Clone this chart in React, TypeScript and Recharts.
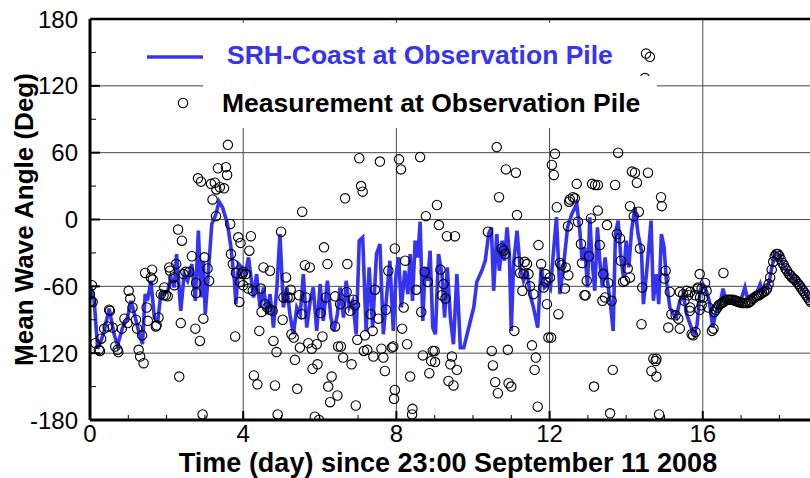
import React from 'react';
import { ComposedChart, Line, Scatter, XAxis, YAxis, CartesianGrid, ReferenceLine } from 'recharts';

const W = 810;
const H = 478;
const TOP = 19;
const YAXIS_W = 90;
const XAXIS_H = 58;
const PLOT_LEFT = YAXIS_W;
const PLOT_BOTTOM = H - XAXIS_H;
const FONT = "'Liberation Sans', Arial, Helvetica, sans-serif";
const BLUE = '#3434f2';

// axis ticks: labels on every 4 days / 60 deg, minor marks in between
const xTicks = [0, 1, 2, 3, 4, 5, 6, 7, 8, 9, 10, 11, 12, 13, 14, 15, 16, 17, 18];
const yTicks = [-180, -150, -120, -90, -60, -30, 0, 30, 60, 90, 120, 150, 180];
const xGrid = [4, 8, 12, 16];
const yGrid = [-120, -60, 0, 60, 120];

// SRH-Coast model result [day, deg]
const modelSeries: [number, number][] = [
  [0.0, -60], [0.05, -64], [0.11, -73], [0.2, -116], [0.29, -109], [0.37, -100], [0.5, -80],
  [0.63, -103], [0.72, -113], [0.85, -97], [0.98, -88], [1.07, -73], [1.16, -85], [1.29, -103],
  [1.37, -112], [1.44, -67], [1.5, -73], [1.59, -55], [1.68, -88], [1.77, -91], [1.85, -67],
  [1.94, -67], [2.03, -64], [2.11, -52], [2.2, -61], [2.26, -31], [2.37, -82], [2.46, -49],
  [2.55, -55], [2.66, -40], [2.75, -73], [2.83, -10], [2.9, -70], [2.96, -37], [3.01, -85],
  [3.1, -43], [3.18, -4], [3.29, 5], [3.37, 16], [3.46, 11], [3.59, -4], [3.68, -25],
  [3.77, -55], [3.81, -76], [3.88, -40], [3.97, -43], [4.03, -49], [4.09, -43], [4.14, -34],
  [4.27, -70], [4.35, -49], [4.44, -79], [4.53, -61], [4.62, -85], [4.7, -67], [4.79, -97],
  [4.88, -61], [4.96, -13], [5.05, -79], [5.14, -61], [5.22, -85], [5.31, -103], [5.4, -79],
  [5.49, -85], [5.57, -49], [5.66, -97], [5.75, -73], [5.83, -61], [5.92, -100], [6.01, -58],
  [6.09, -91], [6.2, -55], [6.29, -88], [6.37, -100], [6.46, -85], [6.53, -61], [6.62, -88],
  [6.69, -55], [6.77, -79], [6.86, -73], [6.95, -103], [7.03, -19], [7.12, -16], [7.21, -100],
  [7.29, -43], [7.38, -97], [7.48, -31], [7.57, -22], [7.66, -103], [7.75, -67], [7.83, -37],
  [7.92, -100], [7.99, -50], [8.06, -34], [8.13, -79], [8.22, -46], [8.3, -67], [8.36, -31],
  [8.42, -73], [8.49, -19], [8.56, -34], [8.62, -2], [8.69, -91], [8.75, -43], [8.82, -55],
  [8.88, -28], [8.95, -97], [9.02, -103], [9.1, -31], [9.19, -49], [9.26, -88], [9.33, -43],
  [9.41, -88], [9.49, -112], [9.58, -49], [9.67, -115], [9.76, -115], [9.89, -97], [10.02, -79],
  [10.1, -56], [10.23, -46], [10.32, -37], [10.41, -13], [10.48, -7], [10.54, -64], [10.62, -13],
  [10.69, -46], [10.76, -19], [10.82, -37], [10.89, -7], [10.95, -31], [11.0, -100], [11.06, -40],
  [11.15, -10], [11.23, -43], [11.32, -55], [11.41, -46], [11.49, -67], [11.58, -79], [11.69, -97],
  [11.78, -43], [11.87, -61], [11.95, -58], [12.02, -62], [12.18, 2], [12.27, -67], [12.36, -43],
  [12.47, -7], [12.58, 5], [12.71, 14], [12.79, -10], [12.85, -37], [12.92, -25], [12.99, -61],
  [13.05, 2], [13.11, -37], [13.18, -64], [13.25, -7], [13.31, -37], [13.38, -61], [13.45, -34],
  [13.51, -55], [13.58, -73], [13.66, -100], [13.72, -13], [13.79, -1], [13.86, -34], [13.93, -52],
  [14.0, -19], [14.07, -43], [14.14, -10], [14.23, 11], [14.31, -13], [14.4, -28], [14.45, -76],
  [14.53, -49], [14.65, -1], [14.71, -73], [14.79, -49], [14.85, -76], [14.92, -13], [14.99, -25],
  [15.05, -55], [15.14, -79], [15.23, -85], [15.31, -88], [15.4, -73], [15.49, -67], [15.58, -85],
  [15.68, -95], [15.77, -103], [15.85, -95], [15.93, -64], [16.0, -58], [16.09, -64], [16.17, -73],
  [16.26, -97], [16.35, -82], [16.45, -76], [16.53, -62], [16.6, -73], [16.76, -72], [16.89, -74],
  [16.99, -73], [17.1, -61], [17.16, -70], [17.28, -69], [17.41, -66], [17.5, -58], [17.56, -65],
  [17.67, -62], [17.74, -55], [17.82, -40], [17.9, -30], [17.97, -31], [18.05, -37], [18.15, -44],
  [18.25, -49], [18.37, -53], [18.5, -58], [18.63, -64], [18.8, -73],
];

// measurement at the observation pile [day, deg]
const measuredSeries: [number, number][] = [
  // day 0 - 4
  [0.05, -59], [0.0, -67], [0.03, -73], [0.07, -74], [0.14, -111], [0.23, -117], [0.26, -118],
  [0.29, -107], [0.37, -98], [0.46, -96], [0.5, -81], [0.52, -82], [0.59, -97], [0.66, -114],
  [0.72, -117], [0.74, -119], [0.83, -98], [0.9, -89], [1.01, -64], [1.05, -71], [1.11, -79],
  [0.98, -93], [1.2, -90], [1.23, -98], [1.27, -117], [1.31, -123], [1.4, -129], [1.36, -104],
  [1.44, -48], [1.62, -45], [1.59, -52], [1.64, -54], [1.48, -79], [1.51, -91], [1.72, -96],
  [1.74, -95], [1.79, -88], [1.85, -67], [1.92, -68], [1.94, -61], [1.98, -68], [2.03, -69],
  [2.07, -43], [2.09, -46], [2.18, -52], [2.2, -59], [2.25, -40], [2.3, -9], [2.4, -19],
  [2.44, -49], [2.49, -47], [2.59, -47], [2.66, -33], [2.77, -57], [2.77, -66], [2.37, -93],
  [2.33, -141], [2.75, -98], [2.87, -109], [2.96, -89], [2.94, -175], [2.99, -34], [3.07, -44],
  [3.11, -55], [2.82, 37], [2.9, 34], [3.16, 32], [3.26, 33], [3.3, 27], [3.39, 29], [3.5, 28],
  [3.34, 46], [3.55, 47], [3.58, 40], [3.6, 67], [3.2, 18], [3.29, 3], [3.66, -4], [3.68, -31],
  [3.73, -40], [3.81, -48], [3.79, -105], [3.87, -16], [3.9, -74], [3.93, -21], [3.98, -49],
  [3.92, -56],
  // day 4 - 8
  [4.0, -47], [4.0, -59], [4.07, -49], [4.13, -62], [4.16, -28], [4.2, -15], [4.25, -64],
  [4.28, -140], [4.37, -148], [4.42, -100], [4.46, -62], [4.48, -83], [4.53, -43], [4.57, -76],
  [4.63, -79], [4.7, -46], [4.7, -81], [4.77, -82], [4.79, -109], [4.83, -149], [4.87, -119],
  [4.9, -175], [4.99, -11], [5.03, -90], [5.05, -70], [5.12, -52], [5.16, -70], [5.22, -70],
  [5.24, -63], [5.26, -103], [5.32, -106], [5.35, -126], [5.41, -152], [5.46, -68], [5.48, -115],
  [5.53, -85], [5.54, 7], [5.61, -41], [5.64, -70], [5.7, -111], [5.74, -43], [5.79, -116],
  [5.81, -134], [5.87, -177], [5.92, -112], [5.94, -130], [5.98, -180], [6.02, -84], [6.07, -105],
  [6.11, -25], [6.16, -70], [6.2, -40], [6.22, -150], [6.27, -164], [6.31, -141], [6.4, -69],
  [6.4, -96], [6.46, -158], [6.48, -114], [6.53, -76], [6.55, -114], [6.61, -124], [6.66, 19],
  [6.7, -65], [6.72, -40], [6.79, -82], [6.83, -130], [6.87, -72], [6.92, -77], [6.94, -167],
  [6.98, -108], [7.03, 55], [7.08, 30], [7.12, 25], [7.15, -118], [7.18, -104], [7.24, -117],
  [7.33, -85], [7.38, -100], [7.4, -123], [7.44, -63], [7.53, -89], [7.57, 52], [7.61, -116],
  [7.66, -124], [7.7, -136], [7.73, -81], [7.79, -46], [7.83, 172], [7.88, -115], [7.92, -114],
  [7.94, -161], [7.96, -153], [7.96, -26],
  // day 8 - 12
  [8.07, 54], [8.12, 45], [8.15, -98], [8.19, -79], [8.23, -37], [8.28, -112], [8.36, -141],
  [8.41, -175], [8.42, -170], [8.52, -63], [8.62, 56], [8.65, -83], [8.69, -122], [8.74, -47],
  [8.77, 3], [8.82, -56], [8.86, -138], [8.91, -127], [8.95, -118], [9.0, -118], [9.01, -128],
  [9.06, 13], [9.11, -5], [9.15, -45], [9.19, -68], [9.23, -58], [9.28, -71], [9.32, -15],
  [9.36, -145], [9.41, -130], [9.45, -123], [9.49, -149], [9.53, -15], [9.58, -135], [10.39, -11],
  [10.49, -118], [10.52, -131], [10.58, -146], [10.62, 65], [10.65, -156], [10.68, 20], [10.75, -26],
  [10.8, -28], [10.84, -31], [10.86, 45], [10.91, -117], [10.93, -147], [11.0, -150], [11.08, -100],
  [11.12, 42], [11.15, 4], [11.19, -38], [11.23, -48], [11.29, -64], [11.32, -49], [11.35, -38],
  [11.41, -40], [11.45, -49], [11.49, -60], [11.54, -113], [11.58, -67], [11.61, -135],
  [11.64, -124], [11.69, -168], [11.71, -23], [11.78, -40], [11.84, -61], [11.89, -49], [11.9, -56],
  [11.93, -76], [11.97, -106],
  // day 12 - 16
  [12.01, -52], [12.04, -106], [12.06, 49], [12.11, 40], [12.14, 59], [12.19, 11], [12.23, -85],
  [12.27, -39], [12.31, -41], [12.4, -62], [12.42, -43], [12.48, -6], [12.49, -50], [12.51, 16],
  [12.53, 18], [12.61, 20], [12.66, 19], [12.71, 32], [12.74, -2], [12.82, -22], [12.85, -39],
  [12.91, -68], [12.94, -68], [12.97, -55], [13.03, -33], [13.08, 1], [13.11, 32], [13.16, -150],
  [13.19, 31], [13.26, 31], [13.26, 8], [13.31, -23], [13.38, -73], [13.4, -49], [13.45, -70],
  [13.5, -5], [13.53, -57], [13.58, -174], [13.62, -73], [13.65, -135], [13.71, 31], [13.76, -13],
  [13.79, 60], [13.84, -17], [13.86, -37], [13.92, -56], [13.97, -55], [14.04, -44], [14.1, 12],
  [14.1, -52], [14.15, 43], [14.2, 3], [14.23, 42], [14.28, 33], [14.33, 7], [14.36, -26],
  [14.4, -94], [14.42, -61], [14.49, 127], [14.52, 149], [14.57, 42], [14.62, 146], [14.66, -136],
  [14.71, -125], [14.77, -127], [14.79, -125], [14.79, -141], [14.86, -175], [14.91, 20],
  [14.93, 12], [15.0, -53], [15.03, -46], [15.1, -97], [15.14, -65], [15.18, -85], [15.29, -86],
  [15.36, -89], [15.4, -65], [15.4, -98], [15.49, -67], [15.52, -73], [15.58, -64], [15.62, -68],
  [15.66, -82], [15.67, -65], [15.67, -79], [15.71, -103], [15.75, -104], [15.8, -68],
  [15.81, -101], [15.86, -62], [15.88, -61], [15.92, -49], [15.92, -81], [15.93, -70], [15.97, -62],
  [15.97, -77],
  // day 16 onward, hourly record becomes continuous
  [16.01, -70], [16.06, -57], [16.1, -64], [16.15, -79], [16.24, -100], [16.28, -98], [16.54, -48],
  [16.3, -83], [16.34, -81], [16.38, -79], [16.42, -77], [16.46, -76], [16.5, -75], [16.54, -74],
  [16.58, -73], [16.63, -72], [16.67, -72], [16.71, -72], [16.75, -72], [16.8, -72], [16.84, -73],
  [16.88, -73], [16.92, -74], [16.97, -74], [17.01, -75], [17.05, -75], [17.1, -75], [17.14, -75],
  [17.18, -75], [17.22, -74], [17.26, -73], [17.3, -71], [17.35, -70], [17.39, -69], [17.43, -68],
  [17.47, -68], [17.51, -67], [17.55, -66], [17.6, -65], [17.64, -64], [17.68, -62], [17.72, -58],
  [17.76, -52], [17.8, -45], [17.84, -38], [17.88, -33], [17.92, -31], [17.96, -31], [18.0, -33],
  [18.04, -36], [18.08, -39], [18.12, -41], [18.16, -44], [18.2, -46], [18.25, -49], [18.29, -50],
  [18.33, -52], [18.37, -53], [18.41, -54], [18.45, -56], [18.5, -58], [18.54, -60], [18.58, -62],
  [18.62, -64], [18.66, -66], [18.7, -68], [18.74, -70], [18.78, -72], [18.82, -74],
];

const modelData = modelSeries.map(([day, angle]) => ({ day, angle }));
const measuredData = measuredSeries.map(([day, angle]) => ({ day, angle }));

const Ring = (props: any) => (
  <circle cx={props.cx} cy={props.cy} r={4.7} fill="none" stroke="#000" strokeWidth={1.1} />
);

// ticks point into the plot; only every 4th day / 60 deg gets a label
const DayTick = (props: any) => {
  const { x, payload } = props;
  const v = payload.value;
  const major = v % 4 === 0;
  return (
    <g>
      {v > 0 && (
        <line x1={x} x2={x} y1={PLOT_BOTTOM} y2={PLOT_BOTTOM - (major ? 9 : 5)}
          stroke="#000" strokeWidth={major ? 2 : 1} />
      )}
      {major && (
        <text x={x} y={PLOT_BOTTOM + 22} textAnchor="middle" fontSize={24} fontFamily={FONT} fill="#000">
          {v}
        </text>
      )}
    </g>
  );
};

const AngleTick = (props: any) => {
  const { y, payload } = props;
  const v = payload.value;
  const major = v % 60 === 0;
  return (
    <g>
      {Math.abs(v) < 180 && (
        <line x1={PLOT_LEFT} x2={PLOT_LEFT + (major ? 10 : 6)} y1={y} y2={y}
          stroke="#000" strokeWidth={major ? 2 : 1} />
      )}
      {major && (
        <text x={PLOT_LEFT - 12} y={y + 8.5} textAnchor="end" fontSize={24} fontFamily={FONT} fill="#000">
          {v}
        </text>
      )}
    </g>
  );
};

const AngleTitle = (props: any) => {
  const vb = props.viewBox;
  const cx = vb.x + 33;
  const cy = vb.y + vb.height / 2;
  return (
    <text x={cx} y={cy} transform={`rotate(-90 ${cx} ${cy})`} textAnchor="middle"
      fontSize={26} fontWeight="bold" fontFamily={FONT} fill="#000">
      Mean Wave Angle (Deg)
    </text>
  );
};

const DayTitle = (props: any) => {
  const vb = props.viewBox;
  return (
    <text x={vb.x + vb.width / 2 - 2} y={vb.y + 52} textAnchor="middle"
      fontSize={27} fontWeight="bold" fontFamily={FONT} fill="#000">
      Time (day) since 23:00 September 11 2008
    </text>
  );
};

export default function App() {
  return (
    <div style={{ position: 'absolute', left: 0, top: 0, width: W, height: H, background: '#fff' }}>
      <ComposedChart width={W} height={H} margin={{ top: TOP, right: 0, bottom: 0, left: 0 }}>
        <CartesianGrid horizontalValues={yGrid} verticalValues={xGrid} stroke="#4a4a4a" strokeWidth={1} />
        <XAxis
          type="number"
          dataKey="day"
          domain={[0, 18.8]}
          allowDataOverflow
          ticks={xTicks}
          interval={0}
          height={XAXIS_H}
          tickSize={0}
          tickLine={false}
          tick={DayTick}
          axisLine={{ stroke: '#000', strokeWidth: 3 }}
          label={<DayTitle />}
        />
        <YAxis
          type="number"
          domain={[-180, 180]}
          allowDataOverflow
          ticks={yTicks}
          interval={0}
          width={YAXIS_W}
          tickSize={0}
          tickLine={false}
          tick={AngleTick}
          axisLine={{ stroke: '#000', strokeWidth: 3 }}
          label={<AngleTitle />}
        />
        <ReferenceLine y={180} stroke="#000" strokeWidth={2.5} />
        <Line
          data={modelData}
          dataKey="angle"
          type="linear"
          stroke={BLUE}
          strokeWidth={3.6}
          dot={false}
          isAnimationActive={false}
        />
        <Scatter data={measuredData} dataKey="angle" shape={Ring} isAnimationActive={false} />
      </ComposedChart>
      <svg width={W} height={H} style={{ position: 'absolute', left: 0, top: 0 }}>
        <rect x={140} y={23} width={496} height={53} fill="#fff" />
        <rect x={203} y={76} width={454} height={52} fill="#fff" />
        <line x1={147} x2={203} y1={57} y2={57} stroke={BLUE} strokeWidth={3.6} />
        <text x={227} y={64} fontSize={26.5} fontWeight="bold" fontFamily={FONT} fill={BLUE}>
          SRH-Coast at Observation Pile
        </text>
        <circle cx={183} cy={103} r={4.7} fill="none" stroke="#000" strokeWidth={1.1} />
        <text x={222} y={112} fontSize={26.5} fontWeight="bold" fontFamily={FONT} fill="#000">
          Measurement at Observation Pile
        </text>
      </svg>
    </div>
  );
}
